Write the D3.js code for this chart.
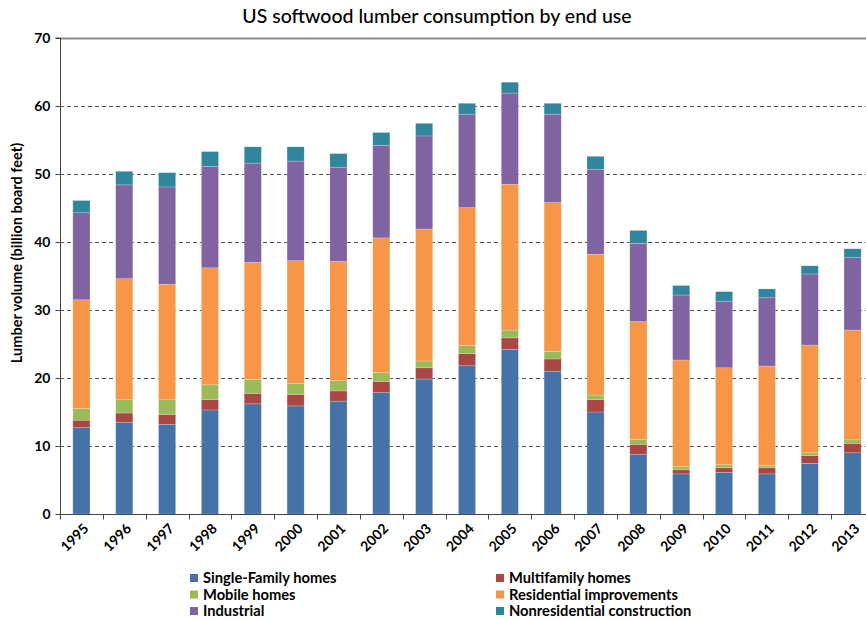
<!DOCTYPE html>
<html>
<head>
<meta charset="utf-8">
<script src="https://cdn.jsdelivr.net/npm/d3@7"></script>
<style>
  html, body { margin: 0; padding: 0; background: #ffffff; }
  svg { display: block; }
  text { font-family: Lato, "Open Sans", sans-serif; fill: #000; }
</style>
</head>
<body>
<svg id="chart" width="866" height="620"></svg>
<script>
// Years on the x axis
const years = ["1995","1996","1997","1998","1999","2000","2001","2002","2003","2004",
               "2005","2006","2007","2008","2009","2010","2011","2012","2013"];

// End-use series (billion board feet)
const singleFamily   = [12.7, 13.5, 13.2, 15.3, 16.2, 15.9, 16.6, 17.85, 19.85, 21.8, 24.2, 21.0, 15.0, 8.8, 5.9, 6.1, 5.9, 7.45, 9.0];
const multifamily    = [1.1, 1.35, 1.45, 1.5, 1.55, 1.7, 1.5, 1.65, 1.65, 1.8, 1.7, 1.8, 1.8, 1.45, 0.6, 0.7, 0.9, 1.15, 1.4];
const mobileHomes    = [1.7, 1.95, 2.15, 2.2, 2.05, 1.6, 1.5, 1.3, 1.0, 1.15, 1.15, 1.1, 0.7, 0.75, 0.45, 0.45, 0.35, 0.4, 0.5];
const residentialImp = [16.0, 17.8, 17.0, 17.2, 17.2, 18.05, 17.55, 19.8, 19.4, 20.3, 21.45, 21.9, 20.7, 17.3, 15.7, 14.25, 14.6, 15.85, 16.15];
const industrial     = [12.8, 13.8, 14.3, 14.9, 14.6, 14.65, 13.85, 13.6, 13.7, 13.75, 13.4, 13.0, 12.5, 11.5, 9.55, 9.8, 10.05, 10.45, 10.65];
const nonresidential = [1.8, 2.0, 2.1, 2.2, 2.4, 2.1, 2.0, 1.9, 1.85, 1.6, 1.6, 1.6, 1.9, 1.9, 1.4, 1.4, 1.3, 1.2, 1.3];

const seriesNames = ["Single-Family homes", "Multifamily homes", "Mobile homes",
                     "Residential improvements", "Industrial", "Nonresidential construction"];
const seriesValues = [singleFamily, multifamily, mobileHomes, residentialImp, industrial, nonresidential];
const seriesColors = ["#4572a7", "#aa4643", "#9bbb59", "#f79646", "#8064a2", "#31859c"];

const yTicks = [0, 10, 20, 30, 40, 50, 60, 70];

const title = "US softwood lumber consumption by end use";
const yLabel = "Lumber volume (billion board feet)";

// Layout
const plot = { left: 60, right: 874, top: 38, bottom: 514 };

const svg = d3.select("#chart");

// Build rows for the stack layout
const keys = seriesNames;
const rows = years.map((y, i) => {
  const r = { year: y };
  keys.forEach((k, j) => { r[k] = seriesValues[j][i]; });
  return r;
});
const stacked = d3.stack().keys(keys)(rows);

const x = d3.scaleBand().domain(years).range([plot.left, plot.right]).paddingInner(0.6).paddingOuter(0.3);
const y = d3.scaleLinear().domain([0, 70]).range([plot.bottom, plot.top]);
const color = d3.scaleOrdinal().domain(keys).range(seriesColors);

// Gridlines (dashed), top one solid
const grid = svg.append("g");
grid.selectAll("line")
  .data(yTicks.filter(t => t > 0))
  .join("line")
  .attr("x1", plot.left).attr("x2", plot.right)
  .attr("y1", d => Math.round(y(d)) + 0.5).attr("y2", d => Math.round(y(d)) + 0.5)
  .attr("stroke", d => d === 70 ? "#8c8c8c" : "#555")
  .attr("stroke-width", d => d === 70 ? 2 : 1)
  .attr("stroke-dasharray", d => d === 70 ? null : "4,3");

// Stacked bars
svg.append("g")
  .selectAll("g")
  .data(stacked)
  .join("g")
  .attr("fill", d => color(d.key))
  .selectAll("rect")
  .data(d => d)
  .join("rect")
  .attr("x", d => x(d.data.year))
  .attr("y", d => y(d[1]))
  .attr("width", x.bandwidth())
  .attr("height", d => y(d[0]) - y(d[1]))
  .attr("stroke", "rgba(255,255,255,0.35)")
  .attr("stroke-width", 0.6);

// Y axis
const yAxis = d3.axisLeft(y).tickValues(yTicks).tickSize(5).tickPadding(5).tickFormat(d3.format("d"));
const gy = svg.append("g")
  .attr("transform", `translate(${plot.left + 0.5},0)`)
  .call(yAxis);
gy.select(".domain").attr("stroke", "#444").attr("d", `M-5,${plot.top}H0V${plot.bottom + 5}`);
gy.selectAll(".tick line").attr("stroke", "#444");
gy.selectAll(".tick text")
  .style("font-family", "Lato, sans-serif")
  .style("font-weight", "700")
  .style("font-size", "14px")
  .attr("fill", "#000");

// X axis: ticks at category boundaries
const gx = svg.append("g").attr("transform", `translate(0,${plot.bottom + 0.5})`);
gx.append("line")
  .attr("x1", plot.left).attr("x2", plot.right)
  .attr("stroke", "#444");
const step = x.step();
const boundaries = d3.range(years.length + 1).map(i => plot.left + i * step);
gx.selectAll("line.tk")
  .data(boundaries)
  .join("line")
  .attr("class", "tk")
  .attr("x1", d => Math.round(d) + 0.5).attr("x2", d => Math.round(d) + 0.5)
  .attr("y1", 0).attr("y2", 5)
  .attr("stroke", "#444");

gx.selectAll("text")
  .data(years)
  .join("text")
  .attr("transform", d => `translate(${x(d) + x.bandwidth() / 2 + 8},${15}) rotate(-45)`)
  .attr("text-anchor", "end")
  .style("font-weight", "700")
  .style("font-size", "14px")
  .text(d => d);

// Title
svg.append("text")
  .attr("x", 437).attr("y", 23)
  .attr("text-anchor", "middle")
  .style("font-size", "19.5px")
  .style("font-weight", "500")
  .text(title);

// Y axis label
svg.append("text")
  .attr("transform", `translate(22,${253}) rotate(-90)`)
  .attr("text-anchor", "middle")
  .style("font-size", "14.5px")
  .style("font-weight", "700")
  .text(yLabel);

// Legend
const legendPos = [
  { x: 190, y: 578 }, { x: 496, y: 578 },
  { x: 190, y: 594.5 }, { x: 496, y: 594.5 },
  { x: 190, y: 611 }, { x: 496, y: 611 }
];
const legend = svg.append("g")
  .selectAll("g")
  .data(keys)
  .join("g")
  .attr("transform", (d, i) => `translate(${legendPos[i].x},${legendPos[i].y})`);
legend.append("rect")
  .attr("x", 0).attr("y", -4)
  .attr("width", 8).attr("height", 8)
  .attr("fill", d => color(d));
legend.append("text")
  .attr("x", 13).attr("y", 5)
  .style("font-size", "14.7px")
  .style("font-weight", "700")
  .text(d => d);
</script>
</body>
</html>
